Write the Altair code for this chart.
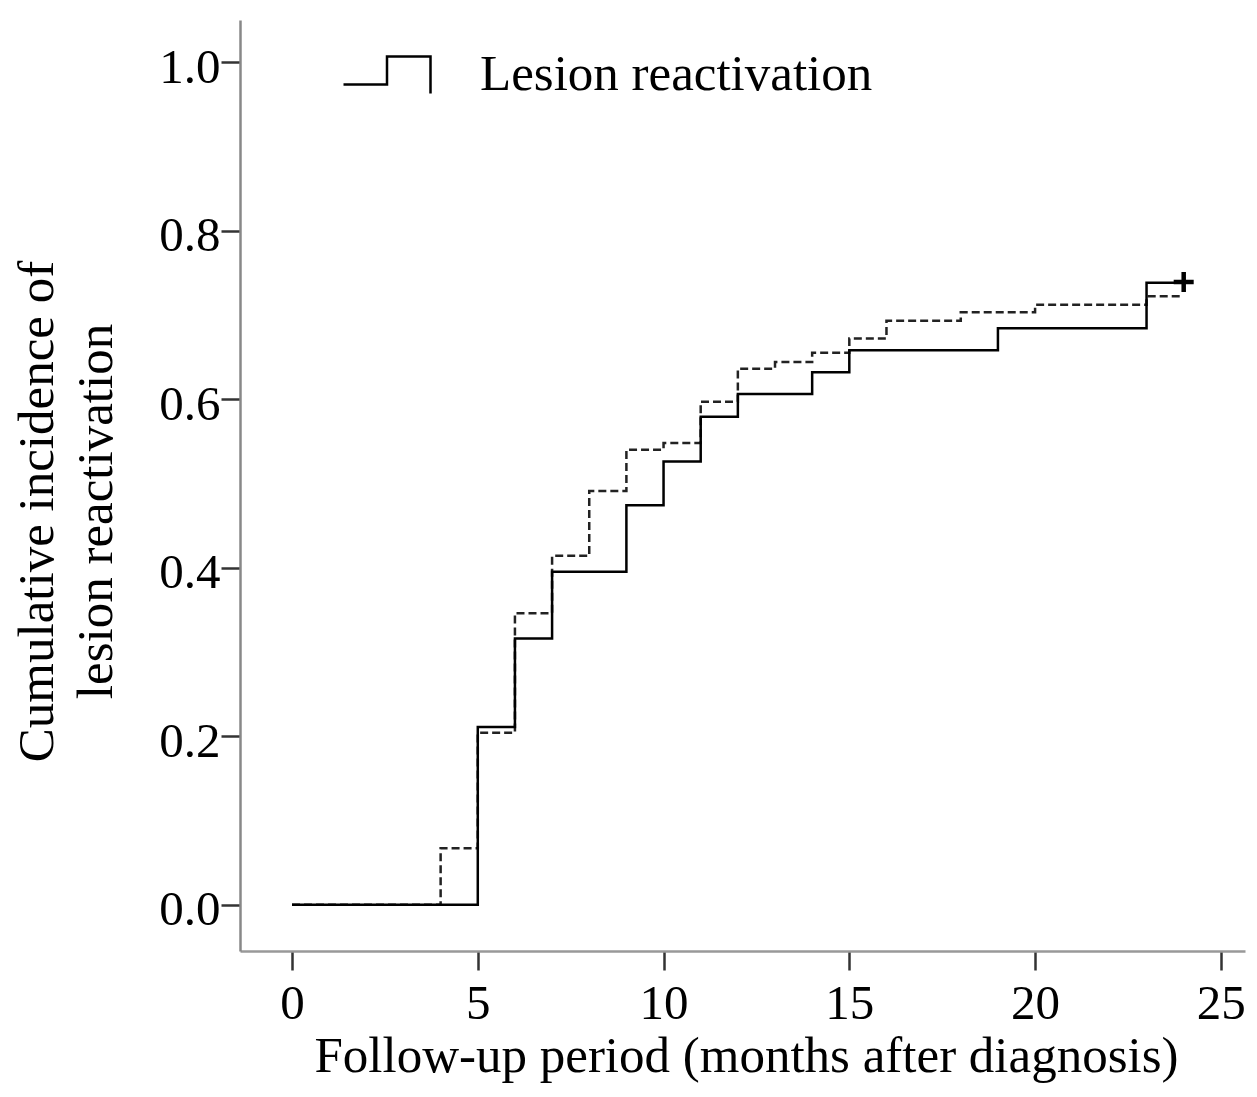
import altair as alt
import pandas as pd

# ---- data ----
solid_months = [0, 5, 6, 7, 9, 10, 11, 12, 14, 15, 19, 23, 24]
solid_values = [0.0, 0.211, 0.316, 0.395, 0.474, 0.526, 0.579, 0.606, 0.632, 0.658, 0.684, 0.738, 0.738]

dashed_months = [0, 4, 5, 6, 7, 8, 9, 10, 11, 12, 13, 14, 15, 16, 18, 20, 23, 24]
dashed_values = [0.0, 0.067, 0.204, 0.346, 0.414, 0.491, 0.540, 0.548, 0.597, 0.636, 0.644, 0.655,
                 0.672, 0.693, 0.703, 0.712, 0.722, 0.722]

censor_month = [24]
censor_value = [0.739]

series_name = "Lesion reactivation"
x_ticks = [0, 5, 10, 15, 20, 25]
y_ticks = [0.0, 0.2, 0.4, 0.6, 0.8, 1.0]

FONT = "Liberation Serif"

solid_df = pd.DataFrame({"month": solid_months, "value": solid_values, "series": series_name})
dashed_df = pd.DataFrame({"month": dashed_months, "value": dashed_values})
censor_df = pd.DataFrame({"month": censor_month, "value": censor_value})

x_scale = alt.Scale(domain=[-1.40, 25.65], nice=False, zero=False)
y_scale = alt.Scale(domain=[-0.055, 1.05], nice=False, zero=False)

x_axis = alt.Axis(
    values=x_ticks, format="d", title="Follow-up period (months after diagnosis)",
    grid=False, labelFontSize=49, labelFont=FONT, labelColor="black", labelPadding=9,
    tickSize=19, tickWidth=2.5, tickColor="#333333",
    domainColor="#999999", domainWidth=2.5,
    titleFont=FONT, titleFontSize=51, titleFontWeight="normal", titleColor="black",
    titleBaseline="alphabetic", titleX=506, titleY=120, titleAnchor="middle", titleAlign="center",
)
y_axis = alt.Axis(
    values=y_ticks, format=".1f",
    title=["Cumulative incidence of", "lesion reactivation"],
    grid=False, labelFontSize=49, labelFont=FONT, labelColor="black", labelPadding=1,
    labelBaseline="middle", labelOffset=5,
    tickSize=19, tickWidth=2.5, tickColor="#333333",
    domainColor="#888888", domainWidth=2.5,
    titleFont=FONT, titleFontSize=51, titleFontWeight="normal", titleColor="black",
    titleLineHeight=59, titleAngle=270, titleBaseline="alphabetic", titleAlign="center",
    titleX=-188, titleY=491,
)

base_x = alt.X("month:Q", scale=x_scale, axis=x_axis)
base_y = alt.Y("value:Q", scale=y_scale, axis=y_axis)

dashed = alt.Chart(dashed_df).mark_line(
    interpolate="step-after", color="#222222", strokeWidth=2.5, strokeDash=[8, 4]
).encode(x=base_x, y=base_y)

solid = alt.Chart(solid_df).mark_line(
    interpolate="step-after", strokeWidth=2.5
).encode(
    x=base_x, y=base_y,
    color=alt.Color(
        "series:N",
        scale=alt.Scale(domain=[series_name], range=["black"]),
        legend=alt.Legend(
            title=None, orient="none", legendX=102, legendY=10, padding=0,
            symbolType="M-1,0.22L0,0.22L0,-0.425L1,-0.425L1,0.425",
            symbolSize=7569, symbolStrokeWidth=2.5, symbolStrokeColor="black",
            symbolFillColor="transparent", labelFont=FONT, labelFontSize=51,
            labelColor="black", labelOffset=48, labelLimit=0,
        ),
    ),
)

censor = alt.Chart(censor_df).mark_point(
    shape="M-1,0L1,0M0,-1L0,1", size=400, strokeWidth=4.5, color="black", filled=False, opacity=1
).encode(x=base_x, y=base_y)

chart = alt.layer(dashed, solid, censor).properties(
    width=1005, height=931,
    autosize=alt.AutoSizeParams(type="none"),
    padding={"left": 232, "top": 12, "right": 4, "bottom": 134},
    background="white",
).configure_view(stroke=None)

chart.save("out.html", embed_options={"renderer": "svg", "actions": False})
